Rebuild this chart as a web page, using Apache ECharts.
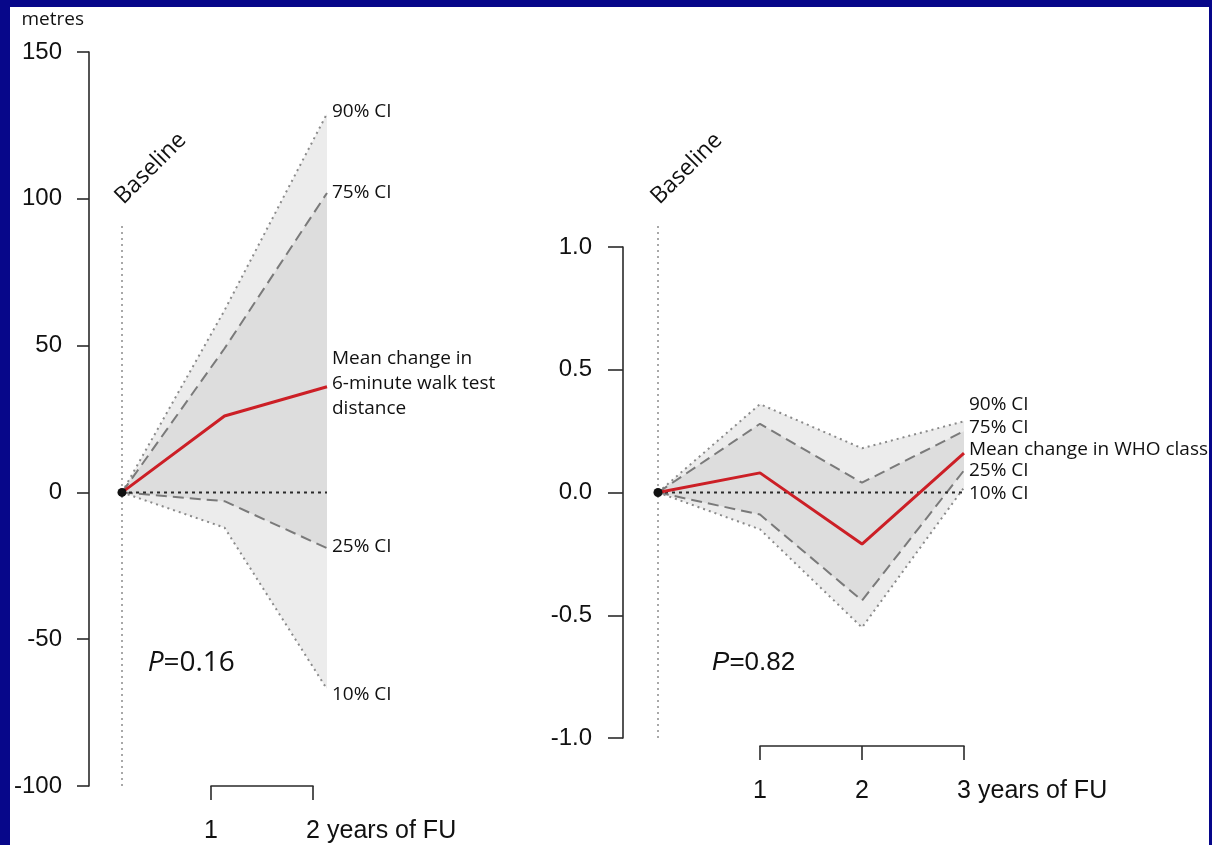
<!DOCTYPE html>
<html><head><meta charset="utf-8">
<script src="https://cdn.jsdelivr.net/npm/echarts@6/dist/echarts.min.js"></script>
<style>html,body{margin:0;padding:0;background:#07078a;} #c{width:1212px;height:845px;}</style>
</head><body><div id="c"></div>
<script>
// ---------- data ----------
const leftYears = [0, 1, 2];
const leftMean = [0, 26, 36];
const left90 = [0, 62, 129];
const left75 = [0, 49, 102];
const left25 = [0, -3, -19];
const left10 = [0, -12, -67];
const leftBracketTicks = [1, 2];

const rightYears = [0, 1, 2, 3];
const rightMean = [0, 0.08, -0.21, 0.16];
const right90 = [0, 0.36, 0.18, 0.29];
const right75 = [0, 0.28, 0.04, 0.25];
const right25 = [0, -0.09, -0.44, 0.09];
const right10 = [0, -0.15, -0.55, 0.02];
const rightBracketTicks = [1, 2, 3];

const leftYRange = [-100, 150, 50];
const rightYRange = [-1, 1, 0.5];
const leftBaselineSpan = [-100, 92];
const rightBaselineSpan = [-1, 1.1];
const leftPText = {x: 0.25, y: -58, p: '0.16'};
const rightPText = {x: 0.53, y: -0.695, p: '0.82'};

// ---------- helpers ----------
const AX = '#2a2a2a';
const TXT = '#111111';
const SANS = 'Liberation Sans';
const HUM = 'Open Sans';
function pts(xs, ys) { return xs.map((x, i) => [x, ys[i]]); }

function bandSeries(idx, xs, lo, hi, color, z) {
  return {type: 'custom', xAxisIndex: idx, yAxisIndex: idx, data: [[xs[0], lo[0]]], silent: true, z: z,
    renderItem: function (params, api) {
      const up = xs.map((x, i) => api.coord([x, hi[i]]));
      const dn = xs.map((x, i) => api.coord([x, lo[i]])).reverse();
      return {type: 'polygon', shape: {points: up.concat(dn)}, style: {fill: color, stroke: null}};
    }};
}
function ciLine(idx, xs, ys, color, dash, width, label, offset, z) {
  return {type: 'line', xAxisIndex: idx, yAxisIndex: idx, data: pts(xs, ys), symbol: 'none',
    lineStyle: {color: color, type: dash, width: width}, z: z || 3, silent: true,
    endLabel: {show: true, formatter: label, distance: 5, offset: offset, fontFamily: HUM,
      fontSize: 19, lineHeight: 25, color: TXT}};
}
function yAxisOpt(idx, r, offset, tickLen, margin, fmt, name) {
  return {type: 'value', gridIndex: idx, min: r[0], max: r[1], interval: r[2], offset: offset,
    name: name || '', nameLocation: 'end', nameGap: 23,
    nameTextStyle: {fontFamily: HUM, fontSize: 19, color: TXT, align: 'right', padding: [0, 5, 0, 0]},
    axisLine: {show: true, onZero: false, lineStyle: {color: AX, width: 1.6}},
    axisTick: {show: true, length: tickLen, lineStyle: {color: AX, width: 1.6}},
    axisLabel: {fontFamily: SANS, fontSize: 24, color: TXT, margin: margin, formatter: fmt},
    splitLine: {show: false}};
}
function bracketX(idx, ticks) {
  return {type: 'value', gridIndex: idx, min: ticks[0], max: ticks[ticks.length - 1], interval: 1,
    name: 'years of FU', nameLocation: 'end', nameGap: 14,
    nameTextStyle: {fontFamily: SANS, fontSize: 25, color: TXT, align: 'left', verticalAlign: 'top', padding: [33, 0, 0, 0]},
    axisLine: {show: true, onZero: false, lineStyle: {color: AX, width: 1.6}},
    axisTick: {show: true, length: 14, lineStyle: {color: AX, width: 1.6}},
    axisLabel: {fontFamily: SANS, fontSize: 25, color: TXT, margin: 33, formatter: v => String(v)},
    splitLine: {show: false}};
}
function decor(idx, xs, baseSpan, pInfo, pFont, pSize) {
  const xEnd = xs[xs.length - 1];
  return [
    {type: 'line', xAxisIndex: idx, yAxisIndex: idx, data: [[0, baseSpan[0]], [0, baseSpan[1]]], symbol: 'none', clip: false,
      lineStyle: {color: '#a8a8a8', type: [2, 4], width: 2}, z: 0, silent: true},
    {type: 'line', xAxisIndex: idx, yAxisIndex: idx, data: [[0, 0], [xEnd, 0]], symbol: 'none',
      lineStyle: {color: '#2a2a2a', type: [3, 4], width: 2}, z: 4, silent: true},
    {type: 'scatter', xAxisIndex: idx, yAxisIndex: idx, clip: false, symbolSize: 0, silent: true, z: 6,
      itemStyle: {opacity: 1},
      data: [
        {value: [0, baseSpan[1]], label: {show: true, formatter: 'Baseline', position: 'top', distance: 16,
          offset: [2, 5], rotate: 45, align: 'left', verticalAlign: 'bottom', fontFamily: HUM, fontSize: 23, color: TXT}},
        {value: [pInfo.x, pInfo.y], label: {show: true, position: 'right', distance: 0,
          formatter: '{i|P}=' + pInfo.p, fontFamily: pFont, fontSize: pSize, color: TXT,
          rich: {i: {fontFamily: pFont, fontSize: pSize, fontStyle: 'italic', color: TXT}}}}
      ]}
  ];
}

const series = [].concat(
  [bandSeries(0, leftYears, left10, left90, '#ececec', 1),
   bandSeries(0, leftYears, left25, left75, '#dddddd', 2)],
  decor(0, leftYears, leftBaselineSpan, leftPText, HUM, 28),
  [
    ciLine(0, leftYears, left90, '#8a8a8a', [2, 4], 2, '90% CI', [0, -2]),
    ciLine(0, leftYears, left75, '#7a7a7a', [11, 6], 2, '75% CI', [0, 0]),
    ciLine(0, leftYears, left25, '#7a7a7a', [11, 6], 2, '25% CI', [0, -2]),
    ciLine(0, leftYears, left10, '#8a8a8a', [2, 4], 2, '10% CI', [0, 5]),
    ciLine(0, leftYears, leftMean, '#cc1f26', 'solid', 3, 'Mean change in\n6-minute walk test\ndistance', [0, -3], 5),
    {type: 'scatter', xAxisIndex: 0, yAxisIndex: 0, data: [[leftYears[0], leftMean[0]]], symbolSize: 9,
      itemStyle: {color: '#111', opacity: 1}, z: 7, silent: true}
  ],
  [bandSeries(2, rightYears, right10, right90, '#ececec', 1),
   bandSeries(2, rightYears, right25, right75, '#dddddd', 2)],
  decor(2, rightYears, rightBaselineSpan, rightPText, SANS, 26),
  [
    ciLine(2, rightYears, right90, '#8a8a8a', [2, 4], 2, '90% CI', [0, -17]),
    ciLine(2, rightYears, right75, '#7a7a7a', [11, 6], 2, '75% CI', [0, -4]),
    ciLine(2, rightYears, right25, '#7a7a7a', [11, 6], 2, '25% CI', [0, 0]),
    ciLine(2, rightYears, right10, '#8a8a8a', [2, 4], 2, '10% CI', [0, 6]),
    ciLine(2, rightYears, rightMean, '#cc1f26', 'solid', 3, 'Mean change in WHO class', [0, -4], 5),
    {type: 'scatter', xAxisIndex: 2, yAxisIndex: 2, data: [[rightYears[0], rightMean[0]]], symbolSize: 9,
      itemStyle: {color: '#111', opacity: 1}, z: 7, silent: true},
    {type: 'line', xAxisIndex: 1, yAxisIndex: 1, data: [], silent: true},
    {type: 'line', xAxisIndex: 3, yAxisIndex: 3, data: [], silent: true}
  ]
);

const option = {
  animation: false,
  backgroundColor: '#07078a',
  graphic: [{type: 'rect', shape: {x: 10, y: 7, width: 1199, height: 845}, style: {fill: '#ffffff'}, z: -10, silent: true}],
  grid: [
    {left: 122, top: 52, width: 205, height: 734},
    {left: 211, top: 700, width: 102, height: 86},
    {left: 658, top: 247, width: 306, height: 491},
    {left: 760, top: 660, width: 204, height: 86}
  ],
  xAxis: [
    {type: 'value', gridIndex: 0, min: 0, max: 2, show: false},
    bracketX(1, leftBracketTicks),
    {type: 'value', gridIndex: 2, min: 0, max: 3, show: false},
    bracketX(3, rightBracketTicks)
  ],
  yAxis: [
    yAxisOpt(0, leftYRange, 33, 12, 27, v => String(v), 'metres'),
    {type: 'value', gridIndex: 1, min: 0, max: 1, show: false},
    yAxisOpt(2, rightYRange, 35, 15, 31, v => v.toFixed(1)),
    {type: 'value', gridIndex: 3, min: 0, max: 1, show: false}
  ],
  series: series
};
const chart = echarts.init(document.getElementById('c'));
chart.setOption(option);
</script></body></html>
